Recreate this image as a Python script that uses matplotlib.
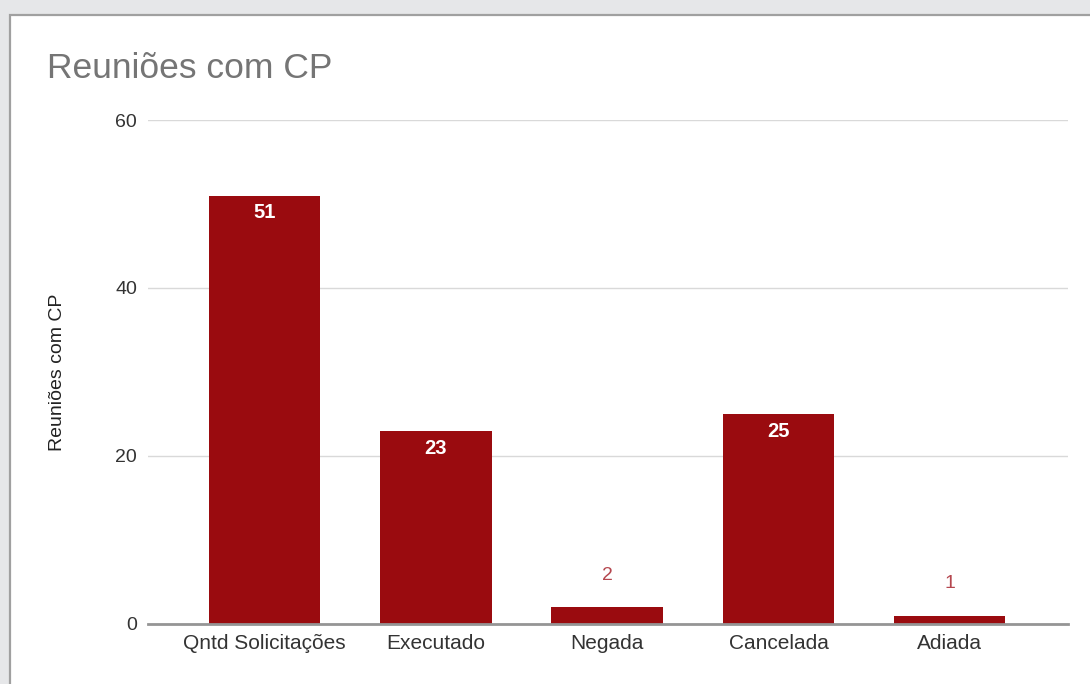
import matplotlib
matplotlib.use("Agg")
import matplotlib.pyplot as plt
from matplotlib.patches import Rectangle

categories = ["Qntd Solicitações", "Executado", "Negada", "Cancelada", "Adiada"]
values = [51, 23, 2, 25, 1]
y_ticks = [0, 20, 40, 60]
title = "Reuniões com CP"
y_label = "Reuniões com CP"

plt.rcParams['font.family'] = ['Liberation Sans', 'DejaVu Sans']

W, H = 1090, 684
fig = plt.figure(figsize=(W / 100, H / 100), dpi=100)
fig.patch.set_facecolor("#e6e7e9")

# white card with grey border
card = Rectangle((10 / W, -0.05), 1.1, (684 - 15) / H + 0.05, transform=fig.transFigure,
                 facecolor="white", edgecolor="#a0a0a0", linewidth=1.6, zorder=-10)
fig.patches.append(card)

ax = fig.add_axes([148 / W, 1 - 624 / H, (1068 - 148) / W, (624 - 120) / H])
ax.set_zorder(5)
ax.set_facecolor("none")
x = list(range(len(categories)))
bar_color = "#9a0b0f"
ax.bar(x, values, width=0.65, color=bar_color, zorder=3)
ax.set_xlim(-0.68, 4.69)
ax.set_ylim(0, 60)
ax.set_yticks(y_ticks)
ax.set_xticks(x)
ax.set_xticklabels(categories)
ax.tick_params(axis='both', length=0, colors="#333333")
ax.tick_params(axis='x', pad=7, labelsize=15)
ax.tick_params(axis='y', pad=8, labelsize=14)
for s in ax.spines.values():
    s.set_visible(False)
ax.grid(axis='y', color="#d9d9d9", linewidth=1, zorder=0)
ax.axhline(0, color="#959595", linewidth=2.0, zorder=4, clip_on=False)

for xi, v in zip(x, values):
    if v >= 10:
        ax.annotate(str(v), (xi, v), xytext=(0, -12.5), textcoords="offset points",
                    ha="center", va="center", color="white", fontsize=14.5,
                    fontweight="bold", zorder=5)
    else:
        ax.annotate(str(v), (xi, v), xytext=(0, 23), textcoords="offset points",
                    ha="center", va="center", color="#b5474f", fontsize=14, zorder=5)

ax.set_ylabel(y_label, fontsize=14, color="#222222")
ax.yaxis.set_label_coords((66 - 148) / (1068 - 148), 0.5)

fig.text(47 / W, 1 - 68 / H, title, fontsize=25.5, color="#757575", ha="left", va="center")

fig.savefig("out.png", dpi=100, facecolor=fig.get_facecolor())
